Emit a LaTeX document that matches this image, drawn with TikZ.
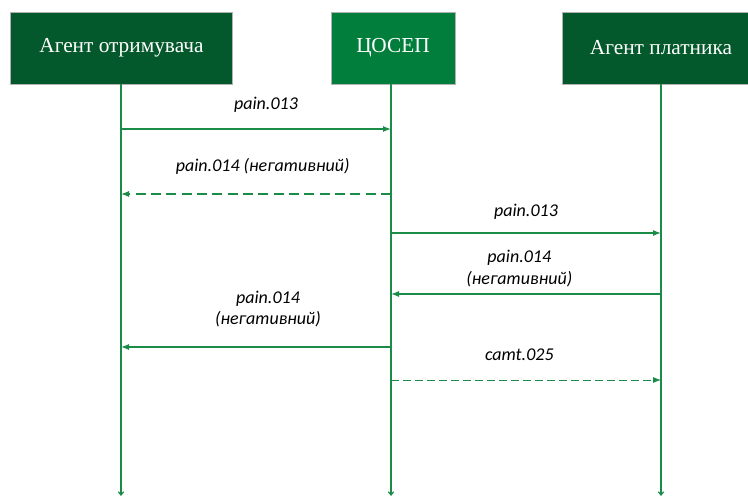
\documentclass[tikz,border=0pt]{standalone}
\usepackage{fontspec}
\setmainfont{Liberation Serif}
\newfontfamily\lblfont{Carlito}
\usetikzlibrary{arrows.meta}
\definecolor{darkgr}{HTML}{03592B}
\definecolor{midgr}{HTML}{027E3C}
\definecolor{linegr}{HTML}{1A8C48}
\tikzset{
	agent/.style={draw=gray!60,fill=darkgr,text=white,font=\fontsize{16}{18}\selectfont,inner sep=0pt},
	msg/.style={linegr,line width=0.9pt,-{Latex[length=6pt,width=4.5pt]}},
	lbl/.style={font=\lblfont\itshape\fontsize{13.5}{16}\selectfont,align=center,text=black}
}
\begin{document}
\begin{tikzpicture}[x=0.75pt,y=-0.75pt]
	\useasboundingbox (0,0) rectangle (748,499);
	\clip (0,0) rectangle (748,499);

	\node [agent,minimum width=166.5pt,minimum height=54pt](P) at (121.5,48) {Агент отримувача};
	\node [agent,fill=midgr,minimum width=93pt,minimum height=54pt](C) at (393,48) {ЦОСЕП};
	\node [agent,minimum width=148.5pt,minimum height=54pt](R) at (661,48) {Агент платника};

	\coordinate (Pend) at (121,496);
	\coordinate (Cend) at (391,496);
	\coordinate (Rend) at (661,496);
	\draw [linegr,line width=0.9pt,-{Straight Barb[length=2.5pt,width=4pt]}] (121,84) -- (Pend);
	\draw [linegr,line width=0.9pt,-{Straight Barb[length=2.5pt,width=4pt]}] (391,84) -- (Cend);
	\draw [linegr,line width=0.9pt,-{Straight Barb[length=2.5pt,width=4pt]}] (661,84) -- (Rend);

	\coordinate (p1) at (121,129); \coordinate (c1) at (391,129);
	\coordinate (p2) at (121,194); \coordinate (c2) at (391,194);
	\coordinate (c3) at (391,233); \coordinate (r3) at (661,233);
	\coordinate (c4) at (391,294); \coordinate (r4) at (661,294);
	\coordinate (p5) at (121,347); \coordinate (c5) at (391,347);
	\coordinate (c6) at (391,380); \coordinate (r6) at (661,380);

	\draw [msg] (p1) -- (c1) node [lbl,midway,xshift=7.5pt,yshift=18pt] {pain.013};
	\draw [msg,dashed,dash pattern=on 7.5pt off 4pt] (c2) -- (p2) node [lbl,midway,xshift=5pt,yshift=21pt] {pain.014 (негативний)};
	\draw [msg] (c3) -- (r3) node [lbl,midway,yshift=15.75pt] {pain.013};
	\draw [msg] (r4) -- (c4) node [lbl,midway,xshift=-5pt,yshift=19pt] {pain.014\\(негативний)};
	\draw [msg] (c5) -- (p5) node [lbl,midway,xshift=9pt,yshift=28.5pt] {pain.014\\(негативний)};
	\draw [msg,line width=0.6pt,dash pattern=on 6pt off 3pt] (c6) -- (r6) node [lbl,midway,xshift=-5pt,yshift=18.75pt] {camt.025};
\end{tikzpicture}
\end{document}
